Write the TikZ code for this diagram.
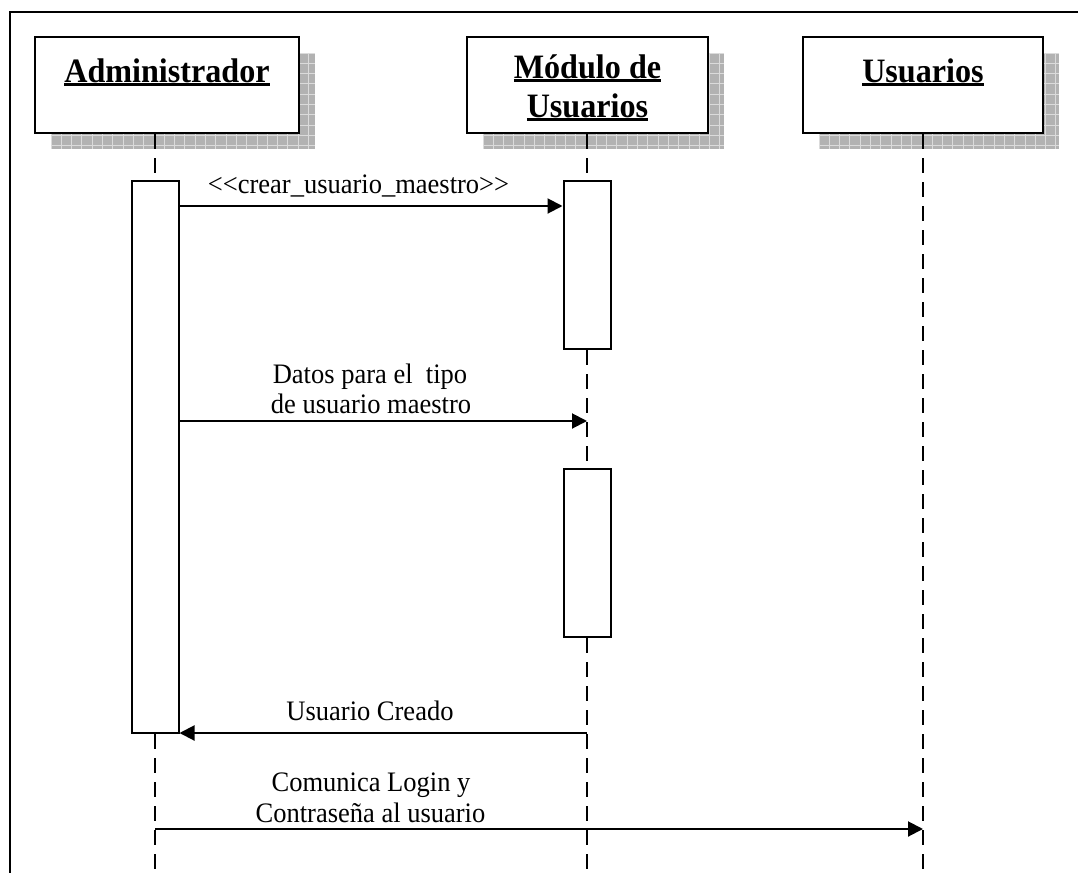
\documentclass[tikz,border=0pt]{standalone}
\usepackage{fontspec}
\setmainfont{Liberation Serif}[FakeStretch=0.94]
\usetikzlibrary{arrows.meta}

% thick underline used in the lifeline headers
\newsavebox{\hdbox}
\newcommand\headul[1]{\sbox{\hdbox}{#1}\leavevmode\rlap{\vrule width\wd\hdbox height -0.4pt depth 1.8pt}\usebox{\hdbox}}

\begin{document}
\begin{tikzpicture}[x=0.5pt,y=-0.5pt,
  lbl/.style={font=\fontsize{14.1}{15}\selectfont, inner sep=0, anchor=base},
  hd/.style={font=\fontsize{17.1}{19}\selectfont\bfseries, inner sep=0, anchor=base},
  headbox/.style={draw, line width=1.1pt, fill=white, minimum height=48pt, inner sep=0},
  act/.style={draw, line width=1pt, fill=white, minimum width=23.5pt, inner sep=0},
  life/.style={line width=1pt, dash pattern=on 7.5pt off 4.5pt},
  msg/.style={line width=1pt, -{Triangle[length=7.5pt,width=7.5pt]}},
  shadefill/.style={fill=black!30},
  shadegrid/.style={draw=black!14, line width=0.5pt},
  ]
\useasboundingbox (0,0) rectangle (1078,873);

% page frame
\draw[line width=1pt] (1078,12) -- (10,12) -- (10,873);

% hatched drop shadows of the header boxes
\foreach \xa/\xb in {35/299, 467/708, 803/1043} {
  \fill[shadefill] (\xa+16,53) rectangle (\xb+16,149);
  \begin{scope}
    \clip (\xa+16,53) rectangle (\xb+16,149);
    \foreach \g in {0,10.3,...,300} \draw[shadegrid] (\xa+16+\g,53) -- ++(0,96);
    \foreach \g in {0,10.3,...,100} \draw[shadegrid] (\xa+16,53+\g) -- ++(\xb-\xa,0);
  \end{scope}
}

% header boxes
\node[headbox, minimum width=132pt]   (adm) at (167,85)   {};
\node[headbox, minimum width=120.5pt] (mod) at (587.5,85) {};
\node[headbox, minimum width=120pt]   (usr) at (923,85)   {};

% lifeline feet
\coordinate (lA) at (155,873);
\coordinate (lM) at (587,873);
\coordinate (lU) at (923,873);

% lifelines
\draw[life] (lA |- adm.south) -- (lA);
\draw[life] (lM |- mod.south) -- (lM);
\draw[life] (lU |- usr.south) -- (lU);

% activation bars
\node[act, minimum height=276pt] (actA)  at (155,457) {};
\node[act, minimum height=84pt]  (actM1) at (587,265) {};
\node[act, minimum height=84pt]  (actM2) at (587,553) {};

% header titles
\node[hd] (admT)  at (167,82.5)  {\headul{Administrador}};
\node[hd] (modT1) at (587.5,78.5) {\headul{Módulo de}};
\node[hd] (modT2) at (587.5,117)  {\headul{Usuarios}};
\node[hd] (usrT)  at (923,82.5)  {\headul{Usuarios}};

% message heights
\coordinate (y1) at (0,206);
\coordinate (y2) at (0,421);
\coordinate (y3) at (0,733);
\coordinate (y4) at (0,829);

% messages
\draw[msg] (actA.east |- y1) -- (actM1.west |- y1);
\draw[msg] (actA.east |- y2) -- (lM |- y2);
\draw[msg] (lM |- y3) -- (actA.east |- y3);
\draw[msg] (lA |- y4) -- (lU |- y4);

% message labels
\node[lbl] (t1)  at (358.5,193) {{<}{<}crear\_usuario\_maestro{>}{>}};
\node[lbl] (t2a) at (370,383)   {Datos para el\ \ tipo};
\node[lbl] (t2b) at (371,413)   {de usuario maestro};
\node[lbl] (t3)  at (370,720)   {Usuario Creado};
\node[lbl] (t4a) at (371,791)   {Comunica Login y};
\node[lbl] (t4b) at (370.5,822) {Contraseña al usuario};
\end{tikzpicture}
\end{document}
